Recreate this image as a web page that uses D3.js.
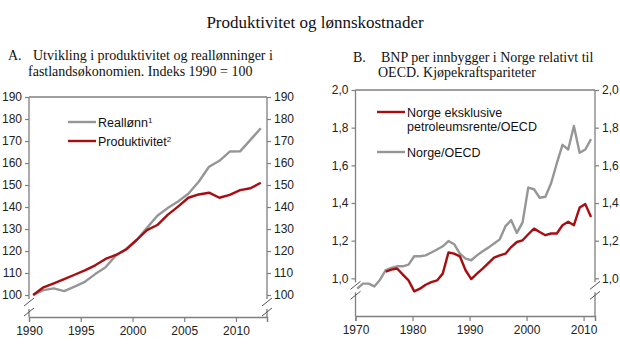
<!DOCTYPE html>
<html>
<head>
<meta charset="utf-8">
<script src="https://cdn.jsdelivr.net/npm/d3@7"></script>
<style>
  body { margin: 0; background: #fff; }
  svg { display: block; }
  .tick text { font-family: "Liberation Sans", Arial, sans-serif; font-size: 12px; fill: #222; }
  .head { font-family: "Liberation Serif", "Times New Roman", serif; fill: #111; }
  .leg { font-family: "Liberation Sans", Arial, sans-serif; font-size: 12.5px; fill: #111; }
</style>
</head>
<body>
<script>
// Panel A: index 1990 = 100
var yearsA = d3.range(1990, 2013);
var realLonn = [100, 102.2, 103, 101.8, 103.8, 106, 109.5, 112.6, 118, 121, 125, 130.5,
                136, 139.5, 142.5, 146, 151.5, 158.3, 161, 165.2, 165.3, 170.5, 175.8];
var produktivitet = [100, 103.5, 105.3, 107.2, 109.2, 111.2, 113.5, 116.4, 118.2, 120.7, 125, 129.5,
                     131.8, 136.4, 140.2, 144.2, 145.7, 146.5, 144.2, 145.5, 147.7, 148.5, 151];
var ticksA = [100, 110, 120, 130, 140, 150, 160, 170, 180, 190];
var xTicksA = [1990, 1995, 2000, 2005, 2010];

// Panel B: BNP per innbygger relativt til OECD
var yearsB = d3.range(1970, 2012);
var norgeOECD = [0.945, 0.972, 0.972, 0.957, 0.993, 1.043, 1.055, 1.064, 1.064, 1.073,
                 1.117, 1.117, 1.122, 1.137, 1.153, 1.170, 1.198, 1.181, 1.131, 1.105,
                 1.096, 1.122, 1.144, 1.163, 1.185, 1.207, 1.277, 1.309, 1.241, 1.297,
                 1.482, 1.473, 1.428, 1.433, 1.505, 1.61, 1.709, 1.684, 1.809, 1.667,
                 1.684, 1.739];
var yearsEks = d3.range(1975, 2012);
var norgeEksPetro = [1.035, 1.046, 1.052, 1.02, 0.989, 0.931, 0.945, 0.966, 0.98, 0.989,
                     1.025, 1.137, 1.131, 1.117, 1.043, 0.996, 1.025, 1.052, 1.081, 1.110,
                     1.122, 1.131, 1.166, 1.193, 1.202, 1.234, 1.264, 1.246, 1.229, 1.238,
                     1.238, 1.282, 1.3, 1.282, 1.376, 1.394, 1.326];
var ticksB = [1.0, 1.2, 1.4, 1.6, 1.8, 2.0];
var xTicksB = [1970, 1980, 1990, 2000, 2010];

var RED = "#a80d12", GREY = "#969696", AXIS = "#7f7f7f";

var svg = d3.select("body").append("svg")
            .attr("width", 620)
            .attr("height", 353);

svg.append("text")
   .attr("class", "head")
   .attr("x", 315).attr("y", 28)
   .attr("text-anchor", "middle")
   .style("font-size", "17px")
   .text("Produktivitet og lønnskostnader");

function drawPanel(p) {
    var g = svg.append("g");
    var x = d3.scaleLinear().domain(p.xDomain).range([p.left, p.right]);
    var y = d3.scaleLinear().domain(p.yDomain).range([p.bottom, p.top]);

    // headings
    p.heading.forEach(function(t) {
        g.append("text").attr("class", "head")
         .attr("x", t[0]).attr("y", t[1])
         .style("font-size", "14px")
         .text(t[2]);
    });

    // top frame line
    g.append("line")
     .attr("x1", p.left).attr("x2", p.right)
     .attr("y1", p.top).attr("y2", p.top)
     .attr("stroke", AXIS).attr("stroke-width", 1.3);

    // y axes, both sides
    var fmt = p.fmt;
    var yl = g.append("g").attr("transform", "translate(" + p.left + ",0)")
              .call(d3.axisLeft(y).tickValues(p.yTicks).tickSize(4).tickPadding(3).tickFormat(fmt));
    var yr = g.append("g").attr("transform", "translate(" + p.right + ",0)")
              .call(d3.axisRight(y).tickValues(p.yTicks).tickSize(4).tickPadding(3).tickFormat(fmt));
    [yl, yr].forEach(function(a) {
        a.select(".domain").remove();
        a.selectAll(".tick line").attr("stroke", AXIS).attr("stroke-width", 1.2);
    });

    // broken axis lines
    var yb = y(p.yTicks[0]);
    [p.left, p.right].forEach(function(ax) {
        g.append("line").attr("x1", ax).attr("x2", ax)
         .attr("y1", p.top).attr("y2", yb + 4)
         .attr("stroke", AXIS).attr("stroke-width", 1.3);
        g.append("line").attr("x1", ax).attr("x2", ax)
         .attr("y1", yb + 14).attr("y2", p.bottom)
         .attr("stroke", AXIS).attr("stroke-width", 1.3);
        [yb + 7, yb + 17].forEach(function(cy) {
            g.append("line")
             .attr("x1", ax - 5).attr("y1", cy + 4)
             .attr("x2", ax + 5).attr("y2", cy - 4)
             .attr("stroke", "#555").attr("stroke-width", 1);
        });
    });

    // x axis
    var xa = g.append("g").attr("transform", "translate(0," + p.bottom + ")")
              .call(d3.axisBottom(x).tickValues(p.xTicks.concat([p.xDomain[1]]))
                      .tickSize(5).tickPadding(4)
                      .tickFormat(function(d) { return p.xTicks.indexOf(d) >= 0 ? d : ""; }));
    xa.select(".domain").attr("stroke", AXIS).attr("stroke-width", 1.3);
    xa.selectAll(".tick line").attr("stroke", AXIS).attr("stroke-width", 1.2);

    // series
    var line = d3.line()
                 .x(function(d) { return x(d[0] + p.shift); })
                 .y(function(d) { return y(d[1]); });
    p.series.forEach(function(s) {
        g.append("path")
         .datum(d3.zip(s.years, s.values))
         .attr("fill", "none")
         .attr("stroke", s.color)
         .attr("stroke-width", 2.4)
         .attr("stroke-linejoin", "round")
         .attr("d", line);
    });

    // legend
    p.legend.forEach(function(l) {
        g.append("line")
         .attr("x1", l.x).attr("x2", l.x + 28)
         .attr("y1", l.y).attr("y2", l.y)
         .attr("stroke", l.color).attr("stroke-width", 2.4);
        l.lines.forEach(function(t, i) {
            var tx = g.append("text").attr("class", "leg")
                      .attr("x", l.x + 30).attr("y", l.y + 4.5 + i * 14.5);
            tx.append("tspan").text(t[0]);
            if (t[1]) tx.append("tspan").style("font-size", "8px").attr("dy", -4).text(t[1]);
        });
    });
}

drawPanel({
    left: 29, right: 267, top: 97, bottom: 317,
    xDomain: [1990, 2013], yDomain: [90, 190], shift: 0.4,
    yTicks: ticksA, xTicks: xTicksA,
    fmt: function(d) { return d; },
    heading: [[8, 60, "A."], [33, 60, "Utvikling i produktivitet og reallønninger i"],
              [28, 76, "fastlandsøkonomien. Indeks 1990 = 100"]],
    series: [
        { years: yearsA, values: realLonn, color: GREY },
        { years: yearsA, values: produktivitet, color: RED }
    ],
    legend: [
        { x: 68, y: 122, color: GREY, lines: [["Reallønn", "1"]] },
        { x: 68, y: 141, color: RED, lines: [["Produktivitet", "2"]] }
    ]
});

drawPanel({
    left: 355.5, right: 595, top: 90, bottom: 316,
    xDomain: [1970, 2012], yDomain: [0.8, 2.0], shift: 0.3,
    yTicks: ticksB, xTicks: xTicksB,
    fmt: function(d) { return d3.format(".1f")(d).replace(".", ","); },
    heading: [[353, 62, "B."], [381, 62, "BNP per innbygger i Norge relativt til"],
              [378, 77, "OECD. Kjøpekraftspariteter"]],
    series: [
        { years: yearsB, values: norgeOECD, color: GREY },
        { years: yearsEks, values: norgeEksPetro, color: RED }
    ],
    legend: [
        { x: 377, y: 112, color: RED, lines: [["Norge eksklusive"], ["petroleumsrente/OECD"]] },
        { x: 377, y: 152, color: GREY, lines: [["Norge/OECD"]] }
    ]
});
</script>
</body>
</html>
